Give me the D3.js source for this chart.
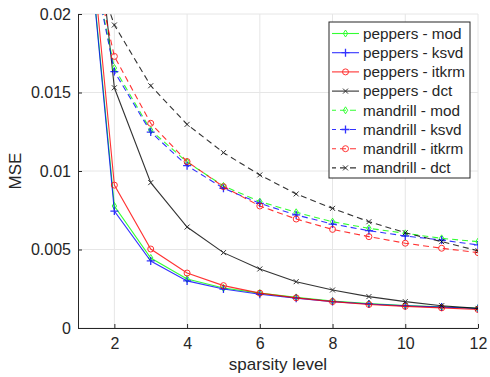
<!DOCTYPE html>
<html>
<head>
<meta charset="utf-8">
<script src="https://cdn.jsdelivr.net/npm/d3@7"></script>
<style>
  body { margin: 0; background: #fff; }
  text { font-family: "Liberation Sans", Arial, Helvetica, sans-serif; fill: #262626; }
</style>
</head>
<body>
<script>
// sparsity levels on the x axis
const sparsity = [1, 2, 3, 4, 5, 6, 7, 8, 9, 10, 11, 12];

// peppers (solid lines)
const peppersMod   = [0.0320, 0.00777, 0.00446, 0.00312, 0.00255, 0.00222, 0.00195, 0.00172, 0.00156, 0.00143, 0.00135, 0.00126];
const peppersKsvd  = [0.0320, 0.00745, 0.00427, 0.00300, 0.00248, 0.00215, 0.00190, 0.00168, 0.00153, 0.00141, 0.00133, 0.00124];
const peppersItkrm = [0.0333, 0.00910, 0.00503, 0.00350, 0.00270, 0.00222, 0.00192, 0.00168, 0.00150, 0.00138, 0.00128, 0.00118];
const peppersDct   = [0.0370, 0.01530, 0.00926, 0.00643, 0.00480, 0.00376, 0.00295, 0.00242, 0.00200, 0.00168, 0.00142, 0.00125];

// mandrill (dashed lines)
const mandrillMod   = [0.0278, 0.01656, 0.01260, 0.01057, 0.00905, 0.00805, 0.00737, 0.00677, 0.00635, 0.00603, 0.00571, 0.00550];
const mandrillKsvd  = [0.0278, 0.01633, 0.01248, 0.01034, 0.00890, 0.00794, 0.00720, 0.00662, 0.00620, 0.00586, 0.00560, 0.00529];
const mandrillItkrm = [0.0277, 0.01730, 0.01304, 0.01060, 0.00900, 0.00777, 0.00694, 0.00628, 0.00582, 0.00540, 0.00508, 0.00480];
const mandrillDct   = [0.0260, 0.01930, 0.01543, 0.01297, 0.01117, 0.00975, 0.00854, 0.00762, 0.00677, 0.00607, 0.00550, 0.00492];

const xTicks = [2, 4, 6, 8, 10, 12];
const yTicks = [0, 0.005, 0.01, 0.015, 0.02];
const yTickLabels = ["0", "0.005", "0.01", "0.015", "0.02"];

const series = [
  { name: "peppers - mod",   values: peppersMod,   color: "#00ff00", dash: null,  marker: "diamond" },
  { name: "peppers - ksvd",  values: peppersKsvd,  color: "#0000ff", dash: null,  marker: "plus" },
  { name: "peppers - itkrm", values: peppersItkrm, color: "#ff0000", dash: null,  marker: "circle" },
  { name: "peppers - dct",   values: peppersDct,   color: "#000000", dash: null,  marker: "cross" },
  { name: "mandrill - mod",   values: mandrillMod,   color: "#00ff00", dash: "6,4", marker: "diamond" },
  { name: "mandrill - ksvd",  values: mandrillKsvd,  color: "#0000ff", dash: "6,4", marker: "plus" },
  { name: "mandrill - itkrm", values: mandrillItkrm, color: "#ff0000", dash: "6,4", marker: "circle" },
  { name: "mandrill - dct",   values: mandrillDct,   color: "#000000", dash: "6,4", marker: "cross" }
];

const W = 490, H = 377;
const margin = { top: 14, right: 12, bottom: 49, left: 78 };
const width = W - margin.left - margin.right,
      height = H - margin.top - margin.bottom;

const svg = d3.select("body").append("svg")
  .attr("width", W).attr("height", H);

const g = svg.append("g")
  .attr("transform", `translate(${margin.left},${margin.top})`);

const x = d3.scaleLinear().domain([1, 12]).range([0, width]);
const y = d3.scaleLinear().domain([0, 0.02]).range([height, 0]);

// grid
g.append("g").selectAll("line.gx").data(xTicks).join("line")
  .attr("x1", d => x(d)).attr("x2", d => x(d))
  .attr("y1", 0).attr("y2", height)
  .attr("stroke", "#e6e6e6").attr("stroke-width", 1);
g.append("g").selectAll("line.gy").data(yTicks).join("line")
  .attr("x1", 0).attr("x2", width)
  .attr("y1", d => y(d)).attr("y2", d => y(d))
  .attr("stroke", "#e6e6e6").attr("stroke-width", 1);

// axes
const xAxis = g.append("g")
  .attr("transform", `translate(0,${height})`)
  .call(d3.axisBottom(x).tickValues(xTicks).tickSizeInner(-4).tickSizeOuter(0).tickPadding(10));
const yAxis = g.append("g")
  .call(d3.axisLeft(y).tickValues(yTicks).tickFormat((d, i) => yTickLabels[i])
    .tickSizeInner(-4).tickSizeOuter(0).tickPadding(7));
[xAxis, yAxis].forEach(a => {
  a.select(".domain").attr("stroke", "#262626");
  a.selectAll(".tick line").attr("stroke", "#262626");
  a.selectAll(".tick text").attr("font-size", 16).attr("fill", "#262626")
    .attr("font-family", "'Liberation Sans', Arial, sans-serif");
});

// axis labels
svg.append("text")
  .attr("x", margin.left + width / 2).attr("y", 370)
  .attr("text-anchor", "middle").attr("font-size", 17)
  .text("sparsity level");
svg.append("text")
  .attr("transform", `translate(21,${margin.top + height / 2}) rotate(-90)`)
  .attr("text-anchor", "middle").attr("font-size", 17)
  .text("MSE");

// clip
svg.append("defs").append("clipPath").attr("id", "clip")
  .append("rect").attr("width", width).attr("height", height);

const plot = g.append("g").attr("clip-path", "url(#clip)");

const line = d3.line().x((d, i) => x(sparsity[i])).y(d => y(d));

function drawMarker(sel, type, color, cx, cy) {
  const s = 3;
  if (type === "diamond") {
    sel.append("path").attr("d", `M${cx},${cy - s - 0.5}L${cx + s - 0.8},${cy}L${cx},${cy + s + 0.5}L${cx - s + 0.8},${cy}Z`)
      .attr("fill", "none").attr("stroke", color).attr("stroke-width", 1);
  } else if (type === "plus") {
    sel.append("path").attr("d", `M${cx - s - 1},${cy}H${cx + s + 1}M${cx},${cy - s - 1}V${cy + s + 1}`)
      .attr("stroke", color).attr("stroke-width", 1.3);
  } else if (type === "circle") {
    sel.append("circle").attr("cx", cx).attr("cy", cy).attr("r", s)
      .attr("fill", "none").attr("stroke", color).attr("stroke-width", 1);
  } else if (type === "cross") {
    const c = s - 0.5;
    sel.append("path").attr("d", `M${cx - c},${cy - c}L${cx + c},${cy + c}M${cx - c},${cy + c}L${cx + c},${cy - c}`)
      .attr("stroke", color).attr("stroke-width", 1);
  }
}

series.forEach(s => {
  const sg = plot.append("g").attr("opacity", 0.8);
  sg.append("path").datum(s.values)
    .attr("d", line)
    .attr("fill", "none")
    .attr("stroke", s.color)
    .attr("stroke-width", 1.1)
    .attr("stroke-dasharray", s.dash);
  s.values.forEach((v, i) => drawMarker(sg, s.marker, s.color, x(sparsity[i]), y(v)));
});

// legend
const lg = svg.append("g").attr("transform", "translate(329,22)");
const rowH = 19.2;
lg.append("rect")
  .attr("x", 0).attr("y", 0)
  .attr("width", 141).attr("height", 156)
  .attr("fill", "#fff").attr("stroke", "#262626").attr("stroke-width", 1);
series.forEach((s, i) => {
  const cy = 11.5 + i * rowH;
  const row = lg.append("g").attr("opacity", 0.8);
  row.append("line")
    .attr("x1", 3).attr("x2", 30).attr("y1", cy).attr("y2", cy)
    .attr("stroke", s.color).attr("stroke-width", 1.1)
    .attr("stroke-dasharray", s.dash ? "6,4" : null)
    .attr("stroke-dashoffset", s.dash ? 2 : null);
  drawMarker(row, s.marker, s.color, 16.5, cy);
  lg.append("text")
    .attr("x", 34).attr("y", cy + 5.3)
    .attr("font-size", 15.3)
    .attr("fill", "#000")
    .text(s.name);
});
</script>
</body>
</html>
